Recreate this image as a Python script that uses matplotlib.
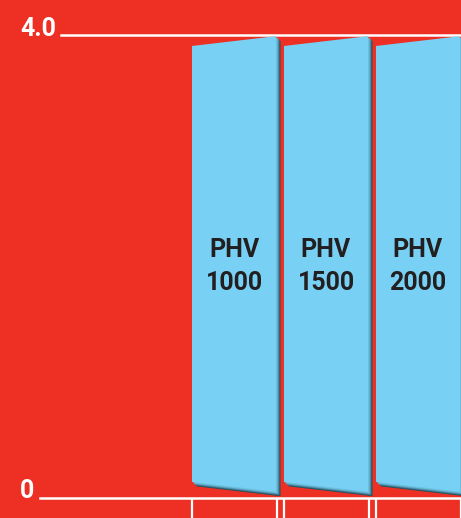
import matplotlib.pyplot as plt
from matplotlib.patches import Polygon
from matplotlib import transforms
from matplotlib.colors import to_rgb
import numpy as np

# Chart data
models = ['PHV\n1000', 'PHV\n1500', 'PHV\n2000']
values = [3.99, 3.99, 3.99]
y_ticks = [0, 4.0]
y_tick_labels = ['0', '4.0']

RED = '#EE3024'
BLUE = '#78D1F4'
SHADOW = '#25505F'
TEXT = '#231F20'

plt.rcParams['font.family'] = ['Roboto', 'DejaVu Sans']

fig = plt.figure(figsize=(4.61, 5.18), dpi=100, facecolor=RED)
ax = fig.add_axes([0, 0, 1, 1])
ax.set_facecolor(RED)
ax.axis('off')

# pixel-calibrated limits: one category = 92 px, 1.0 on y = 115.6 px
ax.set_xlim(-234 / 92, (461 - 234) / 92)
ax.set_ylim(-20.5 / 115.625, 4 + 35 / 115.625)

bar_width = 84 / 92
skew = 0.085   # slanted top/bottom edges
base = 0.05


def mix(c1, c2, t):
    a, b = np.array(to_rgb(c1)), np.array(to_rgb(c2))
    return tuple(a * (1 - t) + b * t)


x = np.arange(len(models))
for xi, val, label in zip(x, values, models):
    x0, x1 = xi - bar_width / 2, xi + bar_width / 2
    pts = [(x0, base + skew), (x1, base), (x1, val), (x0, val - skew)]

    # bevel on the right and bottom edges: dark at the rim, blending into the face
    for k, t in zip([4.5, 3.5, 2.5, 1.5], [0.0, 0.3, 0.6, 0.85]):
        tr = transforms.offset_copy(ax.transData, fig=fig, x=k, y=-k, units='dots')
        ax.add_patch(Polygon(pts, closed=True, facecolor=mix(SHADOW, BLUE, t),
                             edgecolor='none', transform=tr, zorder=2))

    ax.add_patch(Polygon(pts, closed=True, facecolor=BLUE, edgecolor='none', zorder=3))
    ax.text(xi, 2.0, label, ha='center', va='center', fontsize=18,
            fontweight='bold', color=TEXT, linespacing=1.45, zorder=4)

    # category separators below the baseline
    for xe in (x0, x1 + 1 / 92):
        ax.plot([xe, xe], [0, ax.get_ylim()[0]], color='white', lw=1.6,
                solid_capstyle='butt', zorder=1)

# horizontal reference lines and their labels
ax.axhline(4.0, xmin=61 / 461, xmax=1, color='white', lw=1.8, zorder=1)
ax.axhline(0, xmin=40 / 461, xmax=1, color='white', lw=1.8, zorder=1)

label_tr = transforms.blended_transform_factory(ax.transAxes, ax.transData)
for yv, txt in zip(y_ticks, y_tick_labels):
    ax.text(20 / 461, yv - 0.005, txt, transform=label_tr, ha='left', va='baseline',
            fontsize=18, fontweight='bold', color='white')

fig.savefig('out.png', dpi=100, facecolor=RED)
